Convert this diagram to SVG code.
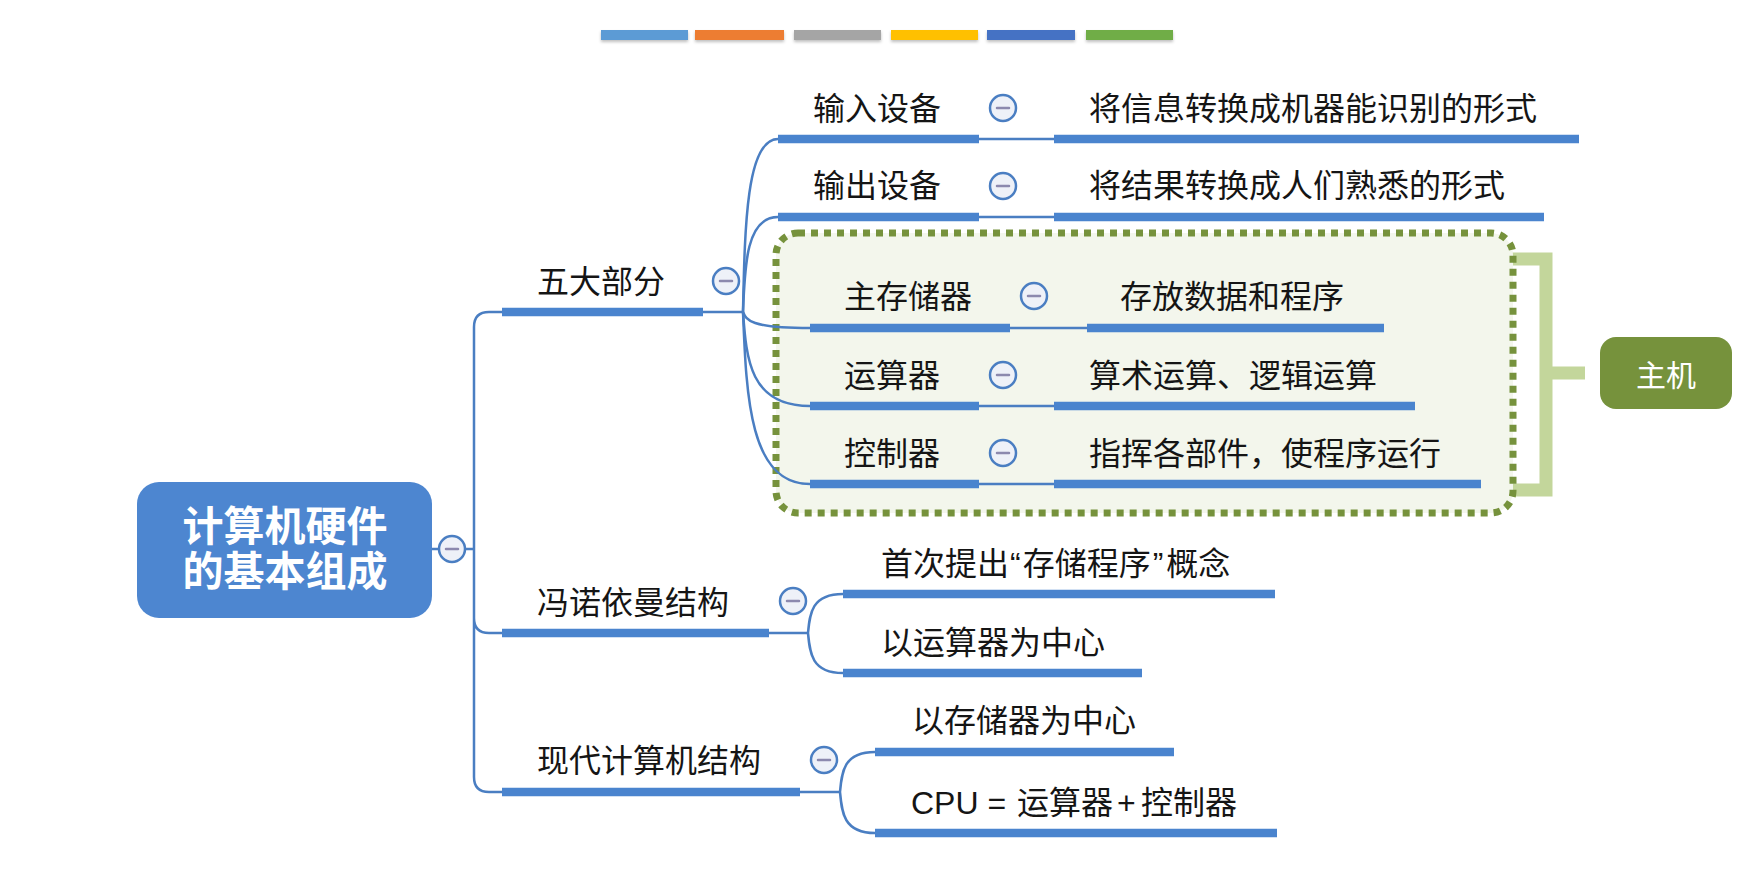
<svg xmlns="http://www.w3.org/2000/svg" width="1744" height="876" viewBox="0 0 1744 876">
  <defs>
    <filter id="barShadow" x="-10%" y="-50%" width="120%" height="250%">
      <feDropShadow dx="0" dy="2" stdDeviation="1.5" flood-color="#000" flood-opacity="0.25"/>
    </filter>
  </defs>
  <style>
    .lbl { font-family: "Noto Sans CJK SC", "Noto Sans", sans-serif; font-size: 32px; fill: #151515; }
    .root-lbl { font-family: "Noto Sans CJK SC", sans-serif; font-size: 41px; font-weight: bold; fill: #ffffff; text-anchor: middle; }
    .host-lbl { font-family: "Noto Sans CJK SC", sans-serif; font-size: 30px; fill: #ffffff; text-anchor: middle; }
    .bar { stroke: #4A84CE; stroke-width: 8.5; fill: none; }
    .link { stroke: #4A7EC2; stroke-width: 2.5; fill: none; }
    .toggle circle { fill: #EEF1F8; stroke: #4A7EC2; stroke-width: 2.5; }
    .toggle line { stroke: #8C89AE; stroke-width: 2.5; stroke-linecap: round; }
    .latin { font-family: "Liberation Sans", sans-serif; }
  </style>

  <rect width="1744" height="876" fill="#ffffff"/>

  <!-- theme colour strip -->
  <g id="palette" filter="url(#barShadow)">
    <rect x="601" y="30" width="87" height="10" fill="#5B9BD5"/>
    <rect x="695" y="30" width="89" height="10" fill="#ED7D31"/>
    <rect x="794" y="30" width="87" height="10" fill="#A5A5A5"/>
    <rect x="891" y="30" width="87" height="10" fill="#FFC000"/>
    <rect x="987" y="30" width="88" height="10" fill="#4472C4"/>
    <rect x="1086" y="30" width="87" height="10" fill="#70AD47"/>
  </g>

  <!-- host bracket and boundary -->
  <g id="host-bracket">
    <path d="M1507,259 H1546 V490 H1507 M1546,373 H1585" fill="none" stroke="#C3D69B" stroke-width="13"/>
  </g>
  <g id="host-boundary">
    <rect x="776" y="233" width="737" height="280" rx="22" fill="#F3F6EC" stroke="#76923C" stroke-width="7" stroke-dasharray="7 6"/>
  </g>

  <!-- connectors -->
  <g id="connectors">
    <!-- trunk from root -->
    <path class="link" d="M432,549 H440 M464,549 H474 M474,549 V327 Q474,312 489,312 H502 M474,549 V618 Q474,633 489,633 H502 M474,549 V777 Q474,792 489,792 H502"/>
    <!-- five parts fan -->
    <path class="link" d="M703,312 H743"/>
    <path class="link" d="M743,312 C744.8,225.5 746.5,139 778,139"/>
    <path class="link" d="M743,312 C744.8,264.5 746.5,217 778,217"/>
    <path class="link" d="M743,312 C746.4,320 749.7,328 810,328"/>
    <path class="link" d="M743,312 C746.4,359 749.7,406 810,406"/>
    <path class="link" d="M743,312 C746.4,398 749.7,484 810,484"/>
    <!-- part to description -->
    <path class="link" d="M979,139 H1054 M979,217 H1054 M1010,328 H1087 M979,406 H1054 M979,484 H1054"/>
    <!-- von Neumann fan -->
    <path class="link" d="M769,633 H808"/>
    <path class="link" d="M808,633 C809.8,613.5 811.5,594 843,594"/>
    <path class="link" d="M808,633 C809.8,653 811.5,673 843,673"/>
    <!-- modern fan -->
    <path class="link" d="M800,792 H840"/>
    <path class="link" d="M840,792 C841.8,772 843.5,752 875,752"/>
    <path class="link" d="M840,792 C841.8,812.5 843.5,833 875,833"/>
  </g>

  <!-- root -->
  <g id="root">
    <rect x="137" y="482" width="295" height="136" rx="22" fill="#4D86D0"/>
    <text class="root-lbl"><tspan x="285" y="541">计算机硬件</tspan><tspan x="285" y="586">的基本组成</tspan></text>
  </g>
  <g id="root-toggle" class="toggle">
    <circle cx="452" cy="549" r="13"/>
    <line x1="446" y1="549" x2="458" y2="549"/>
  </g>

  <!-- five parts -->
  <g id="five-parts">
    <text class="lbl" x="537" y="293">五大部分</text>
    <line class="bar" x1="502" y1="312" x2="703" y2="312"/>
    <g class="toggle"><circle cx="726" cy="281" r="13"/><line x1="720" y1="281" x2="732" y2="281"/></g>
  </g>

  <g id="input-device">
    <text class="lbl" x="813" y="120">输入设备</text>
    <line class="bar" x1="778" y1="139" x2="979" y2="139"/>
    <g class="toggle"><circle cx="1003" cy="108" r="13"/><line x1="997" y1="108" x2="1009" y2="108"/></g>
  </g>
  <g id="input-desc">
    <text class="lbl" x="1089" y="120">将信息转换成机器能识别的形式</text>
    <line class="bar" x1="1054" y1="139" x2="1579" y2="139"/>
  </g>

  <g id="output-device">
    <text class="lbl" x="813" y="197">输出设备</text>
    <line class="bar" x1="778" y1="217" x2="979" y2="217"/>
    <g class="toggle"><circle cx="1003" cy="186" r="13"/><line x1="997" y1="186" x2="1009" y2="186"/></g>
  </g>
  <g id="output-desc">
    <text class="lbl" x="1089" y="197">将结果转换成人们熟悉的形式</text>
    <line class="bar" x1="1054" y1="217" x2="1544" y2="217"/>
  </g>

  <g id="memory">
    <text class="lbl" x="844" y="308">主存储器</text>
    <line class="bar" x1="810" y1="328" x2="1010" y2="328"/>
    <g class="toggle"><circle cx="1034" cy="296" r="13"/><line x1="1028" y1="296" x2="1040" y2="296"/></g>
  </g>
  <g id="memory-desc">
    <text class="lbl" x="1120" y="308">存放数据和程序</text>
    <line class="bar" x1="1087" y1="328" x2="1384" y2="328"/>
  </g>

  <g id="alu">
    <text class="lbl" x="844" y="387">运算器</text>
    <line class="bar" x1="810" y1="406" x2="979" y2="406"/>
    <g class="toggle"><circle cx="1003" cy="375" r="13"/><line x1="997" y1="375" x2="1009" y2="375"/></g>
  </g>
  <g id="alu-desc">
    <text class="lbl" x="1089" y="387">算术运算、逻辑运算</text>
    <line class="bar" x1="1054" y1="406" x2="1415" y2="406"/>
  </g>

  <g id="control">
    <text class="lbl" x="844" y="465">控制器</text>
    <line class="bar" x1="810" y1="484" x2="979" y2="484"/>
    <g class="toggle"><circle cx="1003" cy="453" r="13"/><line x1="997" y1="453" x2="1009" y2="453"/></g>
  </g>
  <g id="control-desc">
    <text class="lbl" x="1089" y="465">指挥各部件，使程序运行</text>
    <line class="bar" x1="1054" y1="484" x2="1481" y2="484"/>
  </g>

  <g id="host">
    <rect x="1600" y="337" width="132" height="72" rx="16" fill="#76923C"/>
    <text class="host-lbl" x="1666" y="386">主机</text>
  </g>

  <!-- von Neumann -->
  <g id="von-neumann">
    <text class="lbl" x="537" y="614">冯诺依曼结构</text>
    <line class="bar" x1="502" y1="633" x2="769" y2="633"/>
    <g class="toggle"><circle cx="793" cy="601" r="13"/><line x1="787" y1="601" x2="799" y2="601"/></g>
  </g>
  <g id="stored-program">
    <text class="lbl" x="881" y="575">首次提出<tspan class="latin" dx="1">“</tspan><tspan dx="2">存储程序</tspan><tspan class="latin" dx="2">”</tspan><tspan dx="3">概念</tspan></text>
    <line class="bar" x1="843" y1="594" x2="1275" y2="594"/>
  </g>
  <g id="alu-centred">
    <text class="lbl" x="881" y="654">以运算器为中心</text>
    <line class="bar" x1="843" y1="673" x2="1142" y2="673"/>
  </g>

  <!-- modern -->
  <g id="modern">
    <text class="lbl" x="537" y="772">现代计算机结构</text>
    <line class="bar" x1="502" y1="792" x2="800" y2="792"/>
    <g class="toggle"><circle cx="824" cy="760" r="13"/><line x1="818" y1="760" x2="830" y2="760"/></g>
  </g>
  <g id="memory-centred">
    <text class="lbl" x="912" y="732">以存储器为中心</text>
    <line class="bar" x1="875" y1="752" x2="1174" y2="752"/>
  </g>
  <g id="cpu">
    <text class="lbl" x="911" y="814"><tspan class="latin">CPU = </tspan><tspan x="1017">运算器</tspan><tspan class="latin" x="1117">+</tspan><tspan x="1141">控制器</tspan></text>
    <line class="bar" x1="875" y1="833" x2="1277" y2="833"/>
  </g>
</svg>
